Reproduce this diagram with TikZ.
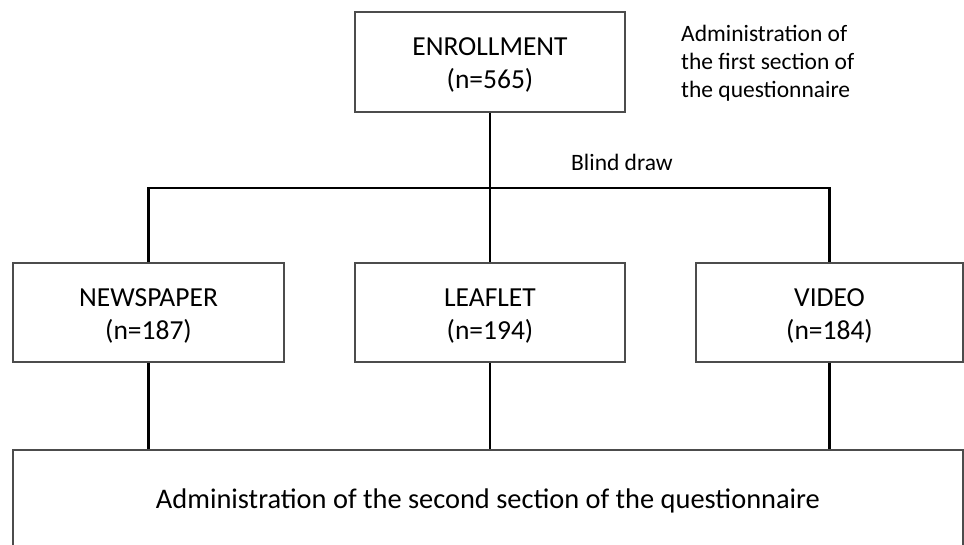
\documentclass[tikz,border=0pt]{standalone}
\usepackage{fontspec}
\setmainfont{Carlito}
\newcommand\topline{\rule{0pt}{28pt}}
\newcommand\botline{\rule[-8pt]{0pt}{8pt}}
\begin{document}
\begin{tikzpicture}[x=1pt,y=-1pt,
  boxstyle/.style={draw=black!70, line width=1.3pt, fill=white, inner sep=0pt,
    align=center, font=\fontsize{27.5}{33}\selectfont},
  notestyle/.style={inner sep=0pt, font=\fontsize{23.5}{28}\selectfont},
  linkstyle/.style={draw=black, line width=2.7pt}]
\useasboundingbox (0,0) rectangle (964,544);
\fill[white] (0,0) rectangle (964,544);

\node[boxstyle, minimum width=270pt, minimum height=100pt] (enr) at (490,62) {\topline ENROLLMENT\\(n=565)\botline};
\node[boxstyle, minimum width=271pt, minimum height=99pt] (news) at (148.5,312.5) {\topline NEWSPAPER\\(n=187)\botline};
\node[boxstyle, minimum width=270pt, minimum height=99pt] (leaf) at (490,312.5) {\topline LEAFLET\\(n=194)\botline};
\node[boxstyle, minimum width=267pt, minimum height=99pt] (vid) at (829.5,312.5) {\topline VIDEO\\(n=184)\botline};
\node[boxstyle, font=\fontsize{28.4}{34}\selectfont, text height=22pt, text depth=6pt,
  minimum width=950pt, minimum height=100pt] (admin) at (488,500) {Administration of the second section of the questionnaire};

\node[notestyle, anchor=north west, align=left] (note) at (681,25) {Administration of\\the first section of\\the questionnaire};
\node[notestyle, anchor=base west] (blind) at (571,170) {Blind draw};

\coordinate (split) at (490,188);
\draw[linkstyle] (enr.south) -- (split);
\draw[linkstyle] (news.north) |- (split) -| (vid.north);
\draw[linkstyle] (split) -- (leaf.north);
\draw[linkstyle] (news.south) -- (news.south |- admin.north);
\draw[linkstyle] (leaf.south) -- (leaf.south |- admin.north);
\draw[linkstyle] (vid.south) -- (vid.south |- admin.north);
\end{tikzpicture}
\end{document}
